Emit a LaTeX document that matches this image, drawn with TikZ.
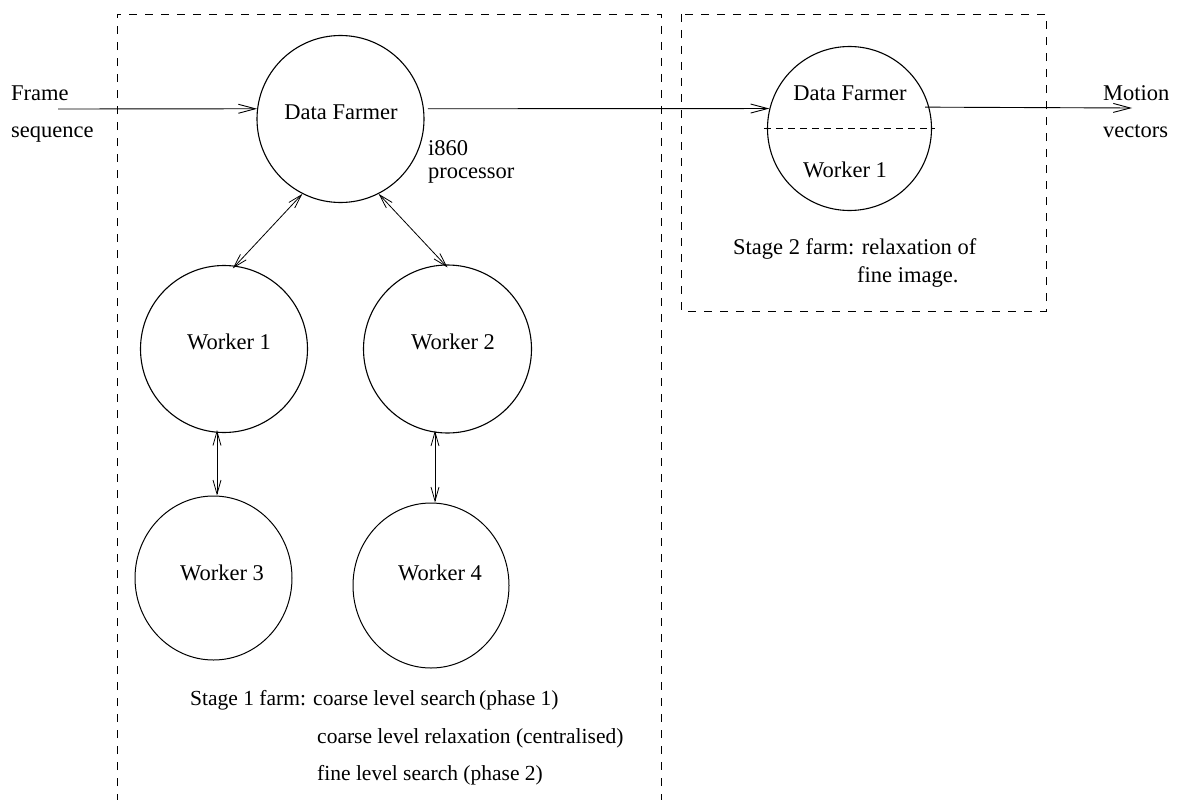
\documentclass[tikz,border=0pt]{standalone}
\usepackage{fontspec}
\setmainfont{Liberation Serif}
\usetikzlibrary{arrows.meta,shapes.geometric}
\begin{document}
\begin{tikzpicture}[x=1pt,y=-1pt,
  proc/.style={circle,draw,line width=1.1pt,inner sep=0pt,minimum size=#1},
  oval/.style={ellipse,draw,line width=1pt,inner sep=0pt},
  txt/.style={font=\fontsize{22.5}{27}\selectfont,inner sep=0pt,anchor=base west},
  stxt/.style={font=\fontsize{21.5}{26}\selectfont,inner sep=0pt,anchor=base west},
  ctxt/.style={font=\fontsize{22.5}{27}\selectfont,inner sep=0pt,anchor=base},
  farmbox/.style={draw,line width=0.9pt,dash pattern=on 8pt off 8pt},
  flow/.style={line width=0.9pt,-{Straight Barb[length=17pt,width=9pt]}},
  link/.style={line width=0.8pt,{Straight Barb[length=14pt,width=8pt]}-{Straight Barb[length=14pt,width=8pt]}}
]
\useasboundingbox (0,0) rectangle (1191,800);

% dashed farm boxes
\draw[farmbox] (117,802) -- (117,14) -- (661,14) -- (661,802);
\draw[farmbox] (681,14) rectangle (1046,311);

% processes
\node[proc=167pt] (df1) at (340.5,119) {};
\node[proc=167pt] (w1) at (224,349) {};
\node[proc=168pt] (w2) at (447.5,349) {};
\node[oval,minimum width=157pt,minimum height=164pt] (w3) at (213.5,578) {};
\node[oval,minimum width=156pt,minimum height=165pt] (w4) at (431,585.5) {};
\node[proc=164pt] (df2) at (849.5,128.5) {};

% labels in circles
\node[ctxt] (df1t) at (341,119) {Data Farmer};
\node[ctxt] (w1t) at (229,349) {Worker 1};
\node[ctxt] (w2t) at (453,349) {Worker 2};
\node[ctxt] (w3t) at (222,580) {Worker 3};
\node[ctxt] (w4t) at (440,580) {Worker 4};
\node[ctxt] (df2t) at (850,100) {Data Farmer};
\node[ctxt] (df2w) at (845,177) {Worker 1};
\draw[line width=0.9pt,dash pattern=on 7pt off 5pt] ([xshift=-3pt]df2.west) -- ([xshift=3pt]df2.east);

% outside labels
\node[txt] (fr1) at (11,100) {Frame};
\node[txt] (fr2) at (11,137) {sequence};
\node[txt] (mv1) at (1103,100) {Motion};
\node[txt] (mv2) at (1103,137) {vectors};
\node[font=\fontsize{22.5}{22.5}\selectfont,inner sep=0pt,align=left,anchor=base west] (cpu) at (428,178) {i860\\processor};
\node[txt] (s2a) at (733,254) {Stage 2 farm: relaxation of};
\node[txt] (s2b) at (857,282) {fine image.};
\node[stxt] (s1a) at (190,705) {Stage 1 farm: coarse level search};
\node[stxt] (s1p) at (479,705) {(phase 1)};
\node[stxt] (s1b) at (317,743) {coarse level relaxation (centralised)};
\node[stxt] (s1c) at (317,780) {fine level search (phase 2)};

% connectors
\coordinate (fin) at (58,109);
\coordinate (fout) at (1132,108);
\draw[flow] (fin) -- (df1.173);
\draw[flow] ([xshift=4pt]df1.7) -- (df2.166);
\draw[flow] ([xshift=-4pt]df2.15) -- (fout);
\draw[link] (df1.243) -- ([yshift=-3pt]w1.84);
\draw[link] (df1.297) -- ([yshift=-3pt]w2.north);
\draw[link] ([xshift=-7pt,yshift=3pt]w1.south) -- ([xshift=-7pt]w1.south |- w3.north);
\draw[link] ([xshift=-12.5pt,yshift=3pt]w2.south) -- ([xshift=-12.5pt]w2.south |- w4.north);
\end{tikzpicture}
\end{document}
